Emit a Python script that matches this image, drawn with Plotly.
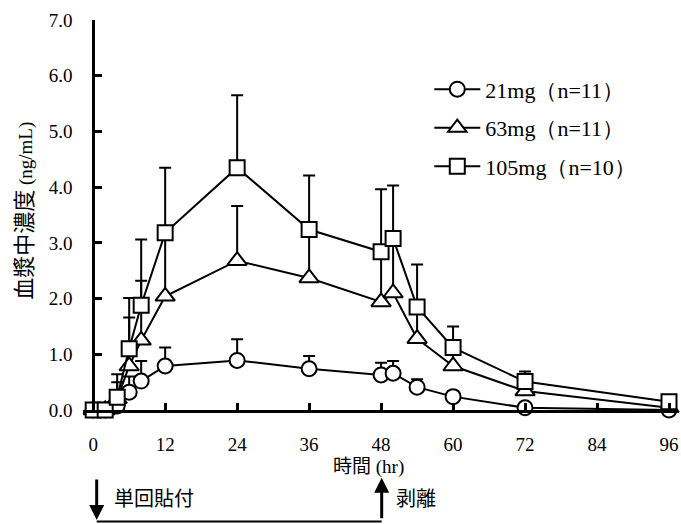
import plotly.graph_objects as go

# Sampling times (hr)
time_hr = [0, 2, 4, 6, 8, 12, 24, 36, 48, 50, 54, 60, 72, 96]

# Mean plasma concentration (ng/mL) and upper SD per dose group
mean_21 = [0, 0, 0.07, 0.32, 0.52, 0.79, 0.89, 0.74, 0.63, 0.66, 0.41, 0.24, 0.04, 0.0]
sd_21 = [0, 0, 0.05, 0.28, 0.36, 0.33, 0.38, 0.23, 0.22, 0.22, 0.14, 0.10, 0.05, 0.0]

mean_63 = [0, 0, 0.20, 0.79, 1.25, 2.04, 2.68, 2.37, 1.94, 2.10, 1.28, 0.79, 0.34, 0.04]
sd_63 = [0, 0, 0.30, 0.87, 1.07, 1.15, 0.98, 0.85, 0.87, 0.95, 0.55, 0.30, 0.15, 0.03]

mean_105 = [0, 0, 0.23, 1.10, 1.88, 3.18, 4.35, 3.24, 2.84, 3.08, 1.85, 1.12, 0.51, 0.15]
sd_105 = [0, 0, 0.41, 0.91, 1.18, 1.17, 1.30, 0.97, 1.12, 0.95, 0.76, 0.38, 0.18, 0.05]

series = [
    ("21mg（n=11）", mean_21, sd_21, "circle", 15),
    ("63mg（n=11）", mean_63, sd_63, "triangle-up", 17),
    ("105mg（n=10）", mean_105, sd_105, "square", 15),
]

x_ticks = [0, 12, 24, 36, 48, 60, 72, 84, 96]
y_ticks = [0, 1, 2, 3, 4, 5, 6, 7]

SERIF = "Liberation Serif"
GOTHIC = "Noto Sans CJK JP"

fig = go.Figure()
for i, (name, mean, sd, symbol, size) in enumerate(series):
    fig.add_trace(go.Scatter(
        x=time_hr, y=mean, name=name, mode="lines+markers",
        legendgroup=f"g{i}",
        line=dict(color="black", width=2),
        marker=dict(symbol=symbol, size=size, color="white",
                    line=dict(color="black", width=2)),
        error_y=dict(type="data", array=sd, arrayminus=[0] * len(sd),
                     symmetric=False, color="black", thickness=2, width=6),
        cliponaxis=False,
    ))

x_lo, x_hi = -1.7, 97.5

fig.update_layout(
    width=681, height=524,
    margin=dict(l=83, r=3, t=20, b=114),
    paper_bgcolor="white", plot_bgcolor="white",
    font=dict(family=SERIF, size=19, color="black"),
    showlegend=True,
    legend=dict(x=0.582, y=0.876, xanchor="left", yanchor="top",
                font=dict(family=SERIF, size=22),
                bgcolor="rgba(0,0,0,0)", tracegroupgap=7,
                itemwidth=46),
    xaxis=dict(range=[x_lo, x_hi], tickvals=x_ticks, ticks="inside",
               ticklen=7, tickwidth=3, tickcolor="black",
               showline=True, linewidth=3, linecolor="black",
               showgrid=False, zeroline=False, ticklabelstandoff=15,
               tickfont=dict(family=SERIF, size=19)),
    yaxis=dict(range=[0, 7], tickvals=y_ticks, tickformat=".1f",
               anchor="free", position=(0 - x_lo) / (x_hi - x_lo),
               ticks="inside", ticklen=7, tickwidth=3, tickcolor="black",
               showline=True, linewidth=3, linecolor="black",
               showgrid=False, zeroline=False, ticklabelstandoff=16,
               tickfont=dict(family=SERIF, size=19)),
)

# Axis titles
fig.add_annotation(
    xref="paper", yref="paper", x=-0.103, y=0.51, textangle=-90,
    xanchor="center", yanchor="middle",
    text="血漿中濃度<span style='font-family:Liberation Serif;font-size:19px'> (ng/mL)</span>",
    showarrow=False, font=dict(family=GOTHIC, size=22),
)
fig.add_annotation(
    xref="paper", yref="paper", x=0.479, y=-0.141,
    xanchor="center", yanchor="middle",
    text="時間<span style='font-family:Liberation Serif'> (hr)</span>",
    showarrow=False, font=dict(family=GOTHIC, size=19),
)

# Dosing period: application at 0 hr, removal at 48 hr
fig.add_annotation(
    xref="paper", yref="paper", x=0.023, y=-0.282, ax=0, ay=-42,
    text="", showarrow=True, arrowhead=2, arrowsize=1, arrowwidth=3,
    arrowcolor="black",
)
fig.add_annotation(
    xref="paper", yref="paper", x=0.502, y=-0.174, ax=0, ay=42,
    text="", showarrow=True, arrowhead=2, arrowsize=1, arrowwidth=3,
    arrowcolor="black",
)
fig.add_shape(type="line", xref="paper", yref="paper",
              x0=0.023, x1=0.502, y0=-0.286, y1=-0.286,
              line=dict(color="black", width=2))
fig.add_annotation(xref="paper", yref="paper", x=0.1185, y=-0.2256,
                   xanchor="center", yanchor="middle",
                   text="単回貼付", showarrow=False,
                   font=dict(family=GOTHIC, size=20))
fig.add_annotation(xref="paper", yref="paper", x=0.5605, y=-0.2256,
                   xanchor="center", yanchor="middle",
                   text="剥離", showarrow=False,
                   font=dict(family=GOTHIC, size=20))

fig.write_html("out.html")
